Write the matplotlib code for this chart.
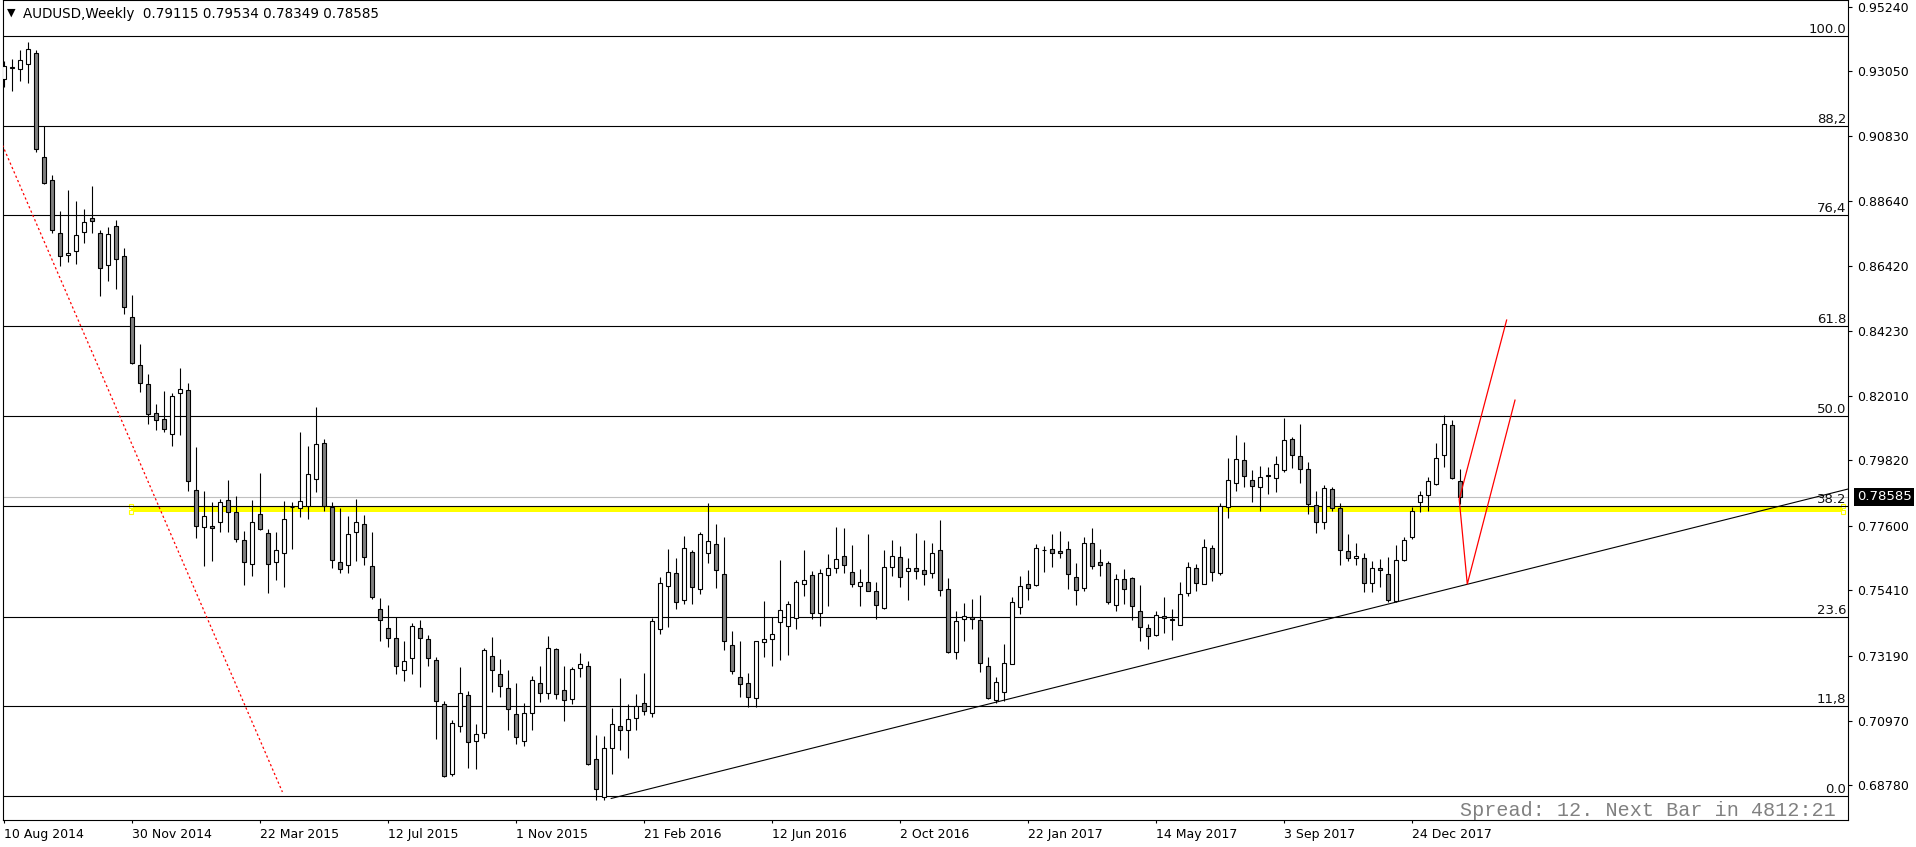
import matplotlib.pyplot as plt

# AUDUSD weekly candles, 10 Aug 2014 .. 4 Feb 2018
opens = [0.9277, 0.9316, 0.9311, 0.9328, 0.9365, 0.9012, 0.8934, 0.8754, 0.8679, 0.8692, 0.8757, 0.8805,
         0.8754, 0.8645, 0.8777, 0.8675, 0.8468, 0.8305, 0.8241, 0.8142, 0.8123, 0.8071, 0.8210, 0.8220,
         0.7881, 0.7755, 0.7758, 0.7772, 0.7847, 0.7806, 0.7711, 0.7629, 0.7799, 0.7735, 0.7636, 0.7667,
         0.7825, 0.7820, 0.7829, 0.7918, 0.8040, 0.7825, 0.7636, 0.7626, 0.7738, 0.7765, 0.7623,
         0.7476, 0.7412, 0.7378, 0.7269, 0.7310, 0.7412, 0.7375, 0.7303, 0.7154, 0.6918, 0.7079, 0.7184,
         0.7028, 0.7055, 0.7317, 0.7256, 0.7208, 0.7120, 0.7028, 0.7123, 0.7225, 0.7191, 0.7341,
         0.7201, 0.7171, 0.7276, 0.7283, 0.6967, 0.6839, 0.7004, 0.7079, 0.7065, 0.7106, 0.7157, 0.7123,
         0.7408, 0.7555, 0.7599, 0.7507, 0.7670, 0.7544, 0.7667, 0.7697, 0.7595, 0.7354, 0.7245,
         0.7225, 0.7176, 0.7367, 0.7375, 0.7432, 0.7419, 0.7446, 0.7561, 0.7592, 0.7463, 0.7592, 0.7616,
         0.7656, 0.7602, 0.7555, 0.7568, 0.7538, 0.7480, 0.7619, 0.7653, 0.7606, 0.7616, 0.7609,
         0.7599, 0.7677, 0.7544, 0.7330, 0.7442, 0.7449, 0.7439, 0.7283, 0.7167, 0.7195, 0.7292, 0.7483,
         0.7561, 0.7558, 0.7677, 0.7680, 0.7673, 0.7680, 0.7585, 0.7548, 0.7701, 0.7636, 0.7633,
         0.7490, 0.7578, 0.7582, 0.7470, 0.7412, 0.7388, 0.7453, 0.7442, 0.7422, 0.7531, 0.7616, 0.7561,
         0.7684, 0.7599, 0.7825, 0.7904, 0.7983, 0.7915, 0.7891, 0.7932, 0.7921, 0.7949, 0.8054,
         0.7997, 0.7952, 0.7830, 0.7772, 0.7884, 0.7820, 0.7673, 0.7650, 0.7650, 0.7565, 0.7616, 0.7595,
         0.7504, 0.7643, 0.7721, 0.7840, 0.7864, 0.7901, 0.7999, 0.8101, 0.79115]
highs = [0.9339, 0.9345, 0.9376, 0.9402, 0.9376, 0.9117, 0.8952, 0.8829, 0.8901, 0.8863, 0.8836, 0.8914,
         0.8765, 0.8776, 0.8799, 0.8704, 0.8544, 0.8378, 0.8276, 0.8174, 0.8218, 0.8210, 0.8296, 0.8245,
         0.8028, 0.7878, 0.7841, 0.7850, 0.7916, 0.7861, 0.7743, 0.7848, 0.7940, 0.7749, 0.7739, 0.7844,
         0.7841, 0.8079, 0.8031, 0.8164, 0.8055, 0.7840, 0.7821, 0.7794, 0.7851, 0.7798, 0.7739,
         0.7515, 0.7491, 0.7449, 0.7369, 0.7430, 0.7440, 0.7389, 0.7315, 0.7165, 0.7101, 0.7281, 0.7199,
         0.7087, 0.7345, 0.7382, 0.7308, 0.7270, 0.7226, 0.7158, 0.7250, 0.7284, 0.7386, 0.7344,
         0.7284, 0.7281, 0.7327, 0.7301, 0.7050, 0.7045, 0.7140, 0.7243, 0.7154, 0.7188, 0.7260, 0.7446,
         0.7585, 0.7680, 0.7650, 0.7724, 0.7677, 0.7738, 0.7836, 0.7766, 0.7721, 0.7402, 0.7368,
         0.7259, 0.7370, 0.7506, 0.7449, 0.7643, 0.7505, 0.7576, 0.7677, 0.7606, 0.7612, 0.7664, 0.7755,
         0.7752, 0.7694, 0.7612, 0.7731, 0.7569, 0.7677, 0.7711, 0.7690, 0.7650, 0.7735, 0.7711,
         0.7701, 0.7780, 0.7582, 0.7470, 0.7497, 0.7510, 0.7524, 0.7313, 0.7245, 0.7358, 0.7517, 0.7589,
         0.7609, 0.7699, 0.7690, 0.7731, 0.7741, 0.7707, 0.7633, 0.7721, 0.7752, 0.7680, 0.7639,
         0.7596, 0.7613, 0.7585, 0.7559, 0.7426, 0.7470, 0.7517, 0.7476, 0.7568, 0.7637, 0.7629, 0.7714,
         0.7694, 0.7837, 0.7989, 0.8069, 0.8044, 0.7949, 0.7962, 0.7959, 0.7996, 0.8125, 0.8061,
         0.8106, 0.7976, 0.7877, 0.7898, 0.7891, 0.7837, 0.7731, 0.7701, 0.7667, 0.7640, 0.7646, 0.7653,
         0.7694, 0.7721, 0.7823, 0.7877, 0.7925, 0.8040, 0.8135, 0.8118, 0.79534]
lows = [0.9250, 0.9238, 0.9272, 0.9265, 0.9031, 0.8921, 0.8756, 0.8644, 0.8655, 0.8651, 0.8720, 0.8756,
        0.8542, 0.8593, 0.8566, 0.8481, 0.8311, 0.8216, 0.8107, 0.8087, 0.8078, 0.8032, 0.8070, 0.7880,
        0.7720, 0.7625, 0.7642, 0.7740, 0.7740, 0.7706, 0.7560, 0.7591, 0.7745, 0.7533, 0.7577, 0.7553,
        0.7683, 0.7791, 0.7784, 0.7876, 0.7812, 0.7618, 0.7599, 0.7601, 0.7642, 0.7628, 0.7510,
        0.7370, 0.7350, 0.7258, 0.7234, 0.7258, 0.7214, 0.7285, 0.7037, 0.6907, 0.6911, 0.7061, 0.6939,
        0.6935, 0.7041, 0.7197, 0.7180, 0.7068, 0.7020, 0.7013, 0.7068, 0.7161, 0.7171, 0.7171,
        0.7096, 0.7154, 0.7245, 0.6949, 0.6829, 0.6829, 0.6918, 0.7000, 0.6973, 0.7068, 0.7116, 0.7110,
        0.7392, 0.7415, 0.7476, 0.7493, 0.7493, 0.7527, 0.7633, 0.7548, 0.7337, 0.7256, 0.7177,
        0.7144, 0.7146, 0.7316, 0.7285, 0.7305, 0.7322, 0.7409, 0.7523, 0.7442, 0.7421, 0.7486, 0.7599,
        0.7599, 0.7551, 0.7489, 0.7538, 0.7442, 0.7476, 0.7591, 0.7553, 0.7507, 0.7581, 0.7558,
        0.7584, 0.7523, 0.7329, 0.7309, 0.7370, 0.7410, 0.7265, 0.7171, 0.7159, 0.7166, 0.7289, 0.7459,
        0.7509, 0.7556, 0.7603, 0.7619, 0.7650, 0.7544, 0.7490, 0.7538, 0.7612, 0.7589, 0.7493,
        0.7472, 0.7493, 0.7439, 0.7368, 0.7341, 0.7385, 0.7395, 0.7372, 0.7422, 0.7521, 0.7538, 0.7561,
        0.7572, 0.7592, 0.7786, 0.7877, 0.7891, 0.7840, 0.7809, 0.7867, 0.7874, 0.7942, 0.7955,
        0.7907, 0.7799, 0.7735, 0.7748, 0.7809, 0.7626, 0.7640, 0.7628, 0.7536, 0.7534, 0.7551, 0.7500,
        0.7500, 0.7641, 0.7714, 0.7806, 0.7809, 0.7899, 0.7959, 0.7918, 0.78349]
closes = [0.9322, 0.9319, 0.9341, 0.9379, 0.9039, 0.8926, 0.8764, 0.8675, 0.8686, 0.8747, 0.8791, 0.8794,
          0.8635, 0.8750, 0.8665, 0.8502, 0.8314, 0.8244, 0.8139, 0.8118, 0.8088, 0.8200, 0.8224, 0.7911,
          0.7758, 0.7792, 0.7752, 0.7840, 0.7808, 0.7714, 0.7637, 0.7772, 0.7748, 0.7629, 0.7677, 0.7782,
          0.7823, 0.7843, 0.7935, 0.8037, 0.7829, 0.7643, 0.7615, 0.7732, 0.7772, 0.7653, 0.7517,
          0.7439, 0.7378, 0.7283, 0.7300, 0.7419, 0.7378, 0.7310, 0.7164, 0.6909, 0.7089, 0.7191, 0.7025,
          0.7052, 0.7338, 0.7269, 0.7215, 0.7137, 0.7042, 0.7123, 0.7235, 0.7191, 0.7344, 0.7188,
          0.7167, 0.7273, 0.7290, 0.6952, 0.6865, 0.7004, 0.7086, 0.7065, 0.7103, 0.7147, 0.7130, 0.7436,
          0.7565, 0.7602, 0.7500, 0.7684, 0.7551, 0.7732, 0.7707, 0.7609, 0.7368, 0.7266, 0.7222,
          0.7180, 0.7368, 0.7375, 0.7392, 0.7473, 0.7493, 0.7569, 0.7575, 0.7463, 0.7599, 0.7616, 0.7646,
          0.7626, 0.7561, 0.7568, 0.7538, 0.7490, 0.7619, 0.7656, 0.7585, 0.7616, 0.7606, 0.7595,
          0.7667, 0.7541, 0.7333, 0.7436, 0.7453, 0.7442, 0.7295, 0.7174, 0.7228, 0.7293, 0.7500, 0.7555,
          0.7548, 0.7684, 0.7677, 0.7667, 0.7667, 0.7595, 0.7541, 0.7701, 0.7622, 0.7626, 0.7500,
          0.7578, 0.7544, 0.7487, 0.7415, 0.7385, 0.7456, 0.7446, 0.7440, 0.7527, 0.7619, 0.7565, 0.7687,
          0.7602, 0.7829, 0.7915, 0.7986, 0.7928, 0.7894, 0.7925, 0.7929, 0.7969, 0.8050, 0.8000,
          0.7954, 0.7833, 0.7772, 0.7887, 0.7820, 0.7677, 0.7650, 0.7656, 0.7565, 0.7616, 0.7609, 0.7507,
          0.7643, 0.7711, 0.7809, 0.7864, 0.7911, 0.7989, 0.8105, 0.7921, 0.78585]

tick_bars = [0, 16, 32, 48, 64, 80, 96, 112, 128, 144, 160, 176]
tick_labels = ['10 Aug 2014', '30 Nov 2014', '22 Mar 2015', '12 Jul 2015', '1 Nov 2015', '21 Feb 2016',
               '12 Jun 2016', '2 Oct 2016', '22 Jan 2017', '14 May 2017', '3 Sep 2017', '24 Dec 2017']
price_ticks = [0.95240, 0.93050, 0.90830, 0.88640, 0.86420, 0.84230, 0.82010,
               0.79820, 0.77600, 0.75410, 0.73190, 0.70970, 0.68780]

# fibo retracement
fib_low = 0.6843
fib_high = 0.9423
fib_levels = [0.0, 11.8, 23.6, 38.2, 50.0, 61.8, 76.4, 88.2, 100.0]
fib_texts = ['0.0', '11,8', '23.6', '38.2', '50.0', '61.8', '76,4', '88,2', '100.0']

bid = 0.78585
zone_x = [15.9, 229.9]
zone_lo, zone_hi = 0.7808, 0.78257
trend_x = [75.9, 230.5]
trend_y = [0.6834, 0.7885]
dot_x = [-0.19, 34.8]
dot_y = [0.9053, 0.6856]
proj_x = [187.83, 181.9, 182.91, 188.875]
proj_y = [0.8459, 0.7850, 0.7562, 0.8187]

fig = plt.figure(figsize=(19.16, 8.47), dpi=100)
ax = fig.add_axes([2.5 / 1916, 27 / 847, 1845.5 / 1916, 820 / 847])
ax.set_xlim(-0.1875, 230.5)
ax.set_ylim(0.67608, 0.95461)

# objects under the candles
ax.axhline(bid, color='#c0c0c0', lw=0.8, zorder=1)
ax.fill_between(zone_x, zone_lo, zone_hi, color='yellow', lw=0, zorder=2)
ax.plot([zone_x[0], zone_x[0], zone_x[1], zone_x[1]], [zone_hi, zone_lo, zone_hi, zone_lo], 's', ms=3,
        mfc='white', mec='yellow', mew=0.8, zorder=3)
for lvl, txt in zip(fib_levels, fib_texts):
    p = fib_low + (fib_high - fib_low) * lvl / 100
    ax.axhline(p, color='black', lw=0.8, zorder=3)
    ax.annotate(txt, xy=(1, p), xycoords=('axes fraction', 'data'), xytext=(-2, 3),
                textcoords='offset pixels', ha='right', va='baseline', fontsize=9.5, color='#101010')
ax.plot(trend_x, trend_y, color='black', lw=0.8, zorder=3)
ax.plot(dot_x, dot_y, color='red', lw=0.9, linestyle=(0, (1.8, 2.0)), zorder=3)

# candles
x = list(range(len(opens)))
colors = ['white' if c >= o else '#808080' for o, c in zip(opens, closes)]
bottoms = [min(o, c) for o, c in zip(opens, closes)]
heights = [abs(c - o) for o, c in zip(opens, closes)]
ax.vlines(x, lows, highs, color='black', lw=0.8, zorder=4)
ax.bar(x, heights, bottom=bottoms, width=0.5, color=colors, edgecolor='black', lw=0.8, zorder=5)

ax.plot(proj_x, proj_y, color='red', lw=0.9, zorder=6)

# axes look
for s in ax.spines.values():
    s.set_linewidth(0.8)
ax.yaxis.tick_right()
ax.set_yticks(price_ticks)
ax.set_yticklabels(['%.5f' % p for p in price_ticks])
ax.tick_params(axis='y', length=3, width=0.8, pad=3.5, labelsize=9)
ax.set_xticks(tick_bars)
ax.set_xticklabels(tick_labels)
for lbl in ax.get_xticklabels():
    lbl.set_ha('left')
ax.tick_params(axis='x', length=2.5, width=0.8, pad=3, labelsize=9)

ax.annotate('%.5f' % bid, xy=(1, bid), xycoords=('axes fraction', 'data'), xytext=(9, 0),
            textcoords='offset pixels', ha='left', va='center', fontsize=9.5, color='white',
            bbox=dict(boxstyle='square,pad=0.2', fc='black', ec='none'), annotation_clip=False)

fig.text(7 / 1916, 1 - 13 / 847, '\u25bc', fontsize=8, va='center', ha='left')
fig.text(23 / 1916, 1 - 14 / 847, 'AUDUSD,Weekly  0.79115 0.79534 0.78349 0.78585', fontsize=9.75,
         va='center', ha='left')
ax.text((1836 - 2.5) / 1845.5, 4 / 820, 'Spread: 12. Next Bar in 4812:21', transform=ax.transAxes,
        ha='right', va='baseline', fontsize=14.5, family='Liberation Mono', color='#808080')

fig.savefig('out.png', dpi=100, facecolor='white')
